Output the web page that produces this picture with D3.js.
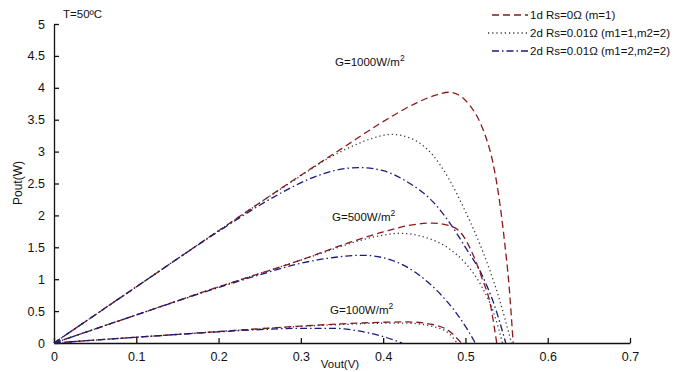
<!DOCTYPE html>
<html>
<head>
<meta charset="utf-8">
<script src="https://cdn.jsdelivr.net/npm/d3@7"></script>
<style>
  html, body { margin: 0; padding: 0; background: #fff; }
  svg { display: block; }
  text { font-family: "Liberation Sans", Arial, sans-serif; fill: #111; }
</style>
</head>
<body>
<svg id="chart" width="697" height="372"></svg>
<script>
// Tick values
const xTicks = [0, 0.1, 0.2, 0.3, 0.4, 0.5, 0.6, 0.7];
const yTicks = [0, 0.5, 1, 1.5, 2, 2.5, 3, 3.5, 4, 4.5, 5];

// Legend entries
const seriesNames = [
  "1d Rs=0\u03A9 (m=1)",
  "2d Rs=0.01\u03A9 (m1=1,m2=2)",
  "2d Rs=0.01\u03A9 (m1=2,m2=2)"
];
const irradianceLabels = ["G=1000W/m", "G=500W/m", "G=100W/m"];

// P-V points [Vout (V), Pout (W)]
// G = 1000 W/m2
const g1000_1d = [[0,0],[0.1,0.88],[0.2,1.76],[0.3,2.63],[0.35,3.05],[0.4,3.47],[0.44,3.76],[0.465,3.89],[0.48,3.93],[0.495,3.86],[0.505,3.73],[0.515,3.53],[0.525,3.22],[0.533,2.85],[0.54,2.35],[0.547,1.65],[0.553,0.9],[0.558,0]];
const g1000_m12 = [[0,0],[0.1,0.88],[0.2,1.76],[0.3,2.62],[0.33,2.87],[0.36,3.07],[0.385,3.2],[0.41,3.27],[0.435,3.2],[0.46,2.95],[0.48,2.57],[0.5,2.06],[0.52,1.47],[0.54,0.74],[0.556,0]];
const g1000_m22 = [[0,0],[0.1,0.88],[0.2,1.75],[0.25,2.16],[0.28,2.38],[0.31,2.57],[0.34,2.7],[0.37,2.75],[0.4,2.7],[0.43,2.52],[0.46,2.22],[0.48,1.9],[0.5,1.5],[0.52,1.07],[0.535,0.6],[0.549,0]];
// G = 500 W/m2
const g500_1d = [[0,0],[0.1,0.44],[0.2,0.88],[0.3,1.3],[0.36,1.58],[0.4,1.74],[0.43,1.84],[0.46,1.88],[0.48,1.84],[0.495,1.72],[0.51,1.36],[0.52,1.02],[0.53,0.62],[0.538,0]];
const g500_m12 = [[0,0],[0.1,0.44],[0.2,0.88],[0.3,1.3],[0.33,1.43],[0.37,1.6],[0.4,1.69],[0.42,1.72],[0.45,1.66],[0.48,1.48],[0.5,1.25],[0.52,0.88],[0.535,0.45],[0.545,0]];
const g500_m22 = [[0,0],[0.1,0.44],[0.2,0.87],[0.25,1.07],[0.3,1.25],[0.34,1.34],[0.375,1.375],[0.41,1.3],[0.44,1.1],[0.47,0.76],[0.49,0.45],[0.502,0.22],[0.512,0]];
// G = 100 W/m2
const g100_1d = [[0,0],[0.1,0.09],[0.2,0.18],[0.3,0.265],[0.35,0.3],[0.4,0.325],[0.43,0.33],[0.46,0.29],[0.48,0.19],[0.495,0]];
const g100_m12 = [[0,0],[0.1,0.09],[0.2,0.18],[0.3,0.26],[0.35,0.29],[0.4,0.31],[0.43,0.31],[0.46,0.26],[0.48,0.15],[0.49,0]];
const g100_m22 = [[0,0],[0.1,0.09],[0.2,0.175],[0.25,0.21],[0.3,0.23],[0.34,0.23],[0.37,0.19],[0.4,0.1],[0.423,0]];

const styles = [
  { color: "#8b1a1a", dash: "7,4" },
  { color: "#333333", dash: "1.2,3" },
  { color: "#1a1a80", dash: "7,3,1.5,3" }
];

const curves = [
  { data: g1000_1d, s: 0 }, { data: g1000_m12, s: 1 }, { data: g1000_m22, s: 2 },
  { data: g500_1d, s: 0 },  { data: g500_m12, s: 1 },  { data: g500_m22, s: 2 },
  { data: g100_1d, s: 0 },  { data: g100_m12, s: 1 },  { data: g100_m22, s: 2 }
];

const svg = d3.select("#chart");
const x = d3.scaleLinear().domain([0, 0.7]).range([54, 630]);
const y = d3.scaleLinear().domain([0, 5]).range([343, 24]);

// Axes (left and bottom only, ticks pointing inward)
const xAxis = d3.axisBottom(x).tickValues(xTicks).tickFormat(d3.format("~g")).tickSizeInner(-5).tickSizeOuter(0).tickPadding(9);
const yAxis = d3.axisLeft(y).tickValues(yTicks).tickFormat(d3.format("~g")).tickSizeInner(-5).tickSizeOuter(0).tickPadding(9);

const gx = svg.append("g").attr("transform", `translate(0,${y(0)})`).call(xAxis);
const gy = svg.append("g").attr("transform", `translate(${x(0)},0)`).call(yAxis);
[gx, gy].forEach(g => {
  g.select(".domain").attr("stroke", "#111").attr("stroke-width", 1.3);
  g.selectAll(".tick line").attr("stroke", "#111").attr("stroke-width", 1.3);
  g.selectAll(".tick text").attr("font-size", 12.5).attr("font-family", "Liberation Sans, Arial, sans-serif").attr("fill", "#111");
});

// Curves
const line = d3.line().x(d => x(d[0])).y(d => y(d[1])).curve(d3.curveMonotoneX);
svg.append("g").selectAll("path").data(curves).join("path")
  .attr("d", d => line(d.data))
  .attr("fill", "none")
  .attr("stroke", d => styles[d.s].color)
  .attr("stroke-width", 1.3)
  .attr("stroke-dasharray", d => styles[d.s].dash);

// Irradiance annotations
const gLabelPos = [[335, 66], [332, 221], [330, 314]];
irradianceLabels.forEach((t, i) => {
  const txt = svg.append("text").attr("x", gLabelPos[i][0]).attr("y", gLabelPos[i][1]).attr("font-size", 11.5);
  txt.append("tspan").text(t);
  txt.append("tspan").attr("dy", -5).attr("font-size", 8.5).text("2");
});

// Temperature note
svg.append("text").attr("x", 63).attr("y", 18).attr("font-size", 11.5).text("T=50\u00BAC");

// Axis titles
svg.append("text").attr("transform", "translate(22,183) rotate(-90)").attr("text-anchor", "middle").attr("font-size", 12).text("Pout(W)");
svg.append("text").attr("x", 340).attr("y", 368).attr("text-anchor", "middle").attr("font-size", 11.5).text("Vout(V)");

// Legend
const legY = [15, 33, 51];
seriesNames.forEach((name, i) => {
  svg.append("line").attr("x1", i === 1 ? 488 : 492).attr("x2", 528).attr("y1", legY[i]).attr("y2", legY[i])
    .attr("stroke", styles[i].color).attr("stroke-width", 1.3).attr("stroke-dasharray", styles[i].dash);
  svg.append("text").attr("x", 530).attr("y", legY[i] + 4).attr("font-size", 11.5).text(name);
});
</script>
</body>
</html>
